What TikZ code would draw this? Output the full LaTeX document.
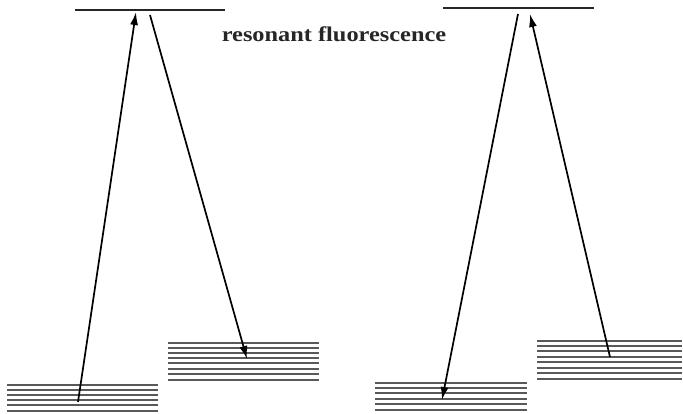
\documentclass[tikz,border=0pt]{standalone}
\usepackage{fontspec}
\setmainfont{Liberation Serif}
\usetikzlibrary{arrows.meta}
\begin{document}
\begin{tikzpicture}[x=1pt,y=-1pt,
  toplevel/.style={line width=2.2pt,black!85},
  sublevel/.style={line width=1.5pt,black!65},
  trans/.style={line width=1.7pt,black,-{Latex[length=13pt,width=8pt]}},
  lbl/.style={font=\fontsize{21}{25}\selectfont\bfseries,text=black!85,xscale=1.16}]
\useasboundingbox[fill=white] (0,0) rectangle (683,414);
% top levels
\draw[toplevel] (75,10) -- (225,10);
\draw[toplevel] (443,8) -- (594,8);
% lower level stacks
\foreach \y in {385,390,395,400,405,411} \draw[sublevel] (7,\y) -- (158,\y);
\foreach \y in {343,348,353,358,363,369,374,380} \draw[sublevel] (168,\y) -- (319,\y);
\foreach \y in {383,388,393,399,404,410} \draw[sublevel] (375,\y) -- (527,\y);
\foreach \y in {341,346,351,357,362,368,373,379} \draw[sublevel] (537,\y) -- (682,\y);
% endpoints
\coordinate (a1) at (78,402);
\coordinate (a2) at (136,12);
\coordinate (b1) at (150,15);
\coordinate (b2) at (247,359);
\coordinate (c1) at (518,14);
\coordinate (c2) at (442,400);
\coordinate (d1) at (610,357);
\coordinate (d2) at (530,14);
\draw[trans] (a1) -- (a2);
\draw[trans] (b1) -- (b2);
\draw[trans] (c1) -- (c2);
\draw[trans] (d1) -- (d2);
\node[lbl] (title) at (334,34) {resonant fluorescence};
\end{tikzpicture}
\end{document}
